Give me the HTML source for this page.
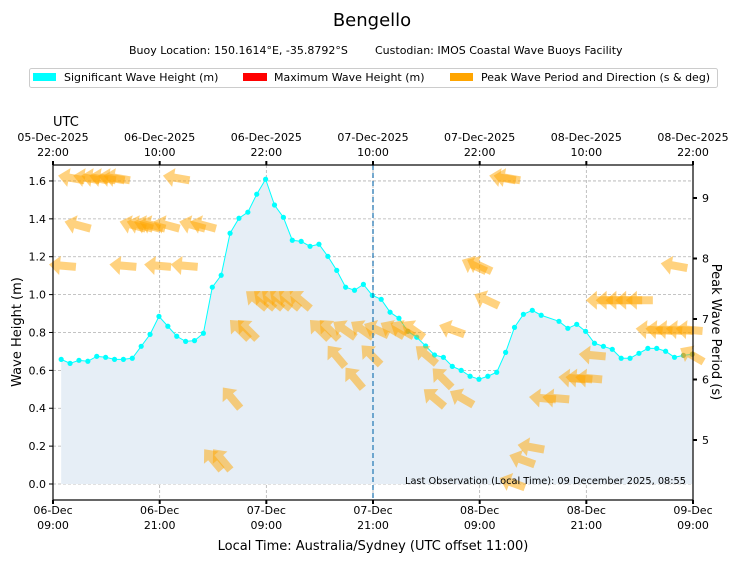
<!DOCTYPE html>
<html><head><meta charset="utf-8">
<style>
body{margin:0;background:#fff;}
svg{display:block;font-family:"DejaVu Sans","Liberation Sans",sans-serif;}
</style></head>
<body>
<svg id="chart" width="740" height="562" viewBox="0 0 740 562">
<text x="372" y="26" font-size="18" text-anchor="middle">Bengello</text>
<g>
<text x="129" y="54" font-size="11">Buoy Location: 150.1614°E, -35.8792°S</text>
<text x="375" y="54" font-size="11">Custodian: IMOS Coastal Wave Buoys Facility</text>
</g>
<g>
<rect x="29.5" y="68.5" width="688" height="19" rx="2" fill="#fff" stroke="#ccc"/>
<g><rect x="33" y="73" width="23" height="8" fill="#00ffff"/><text x="64" y="81" font-size="11">Significant Wave Height (m)</text></g>
<g><rect x="243" y="73" width="24" height="8" fill="#ff0000"/><text x="274" y="81" font-size="11">Maximum Wave Height (m)</text></g>
<g><rect x="450" y="73" width="23" height="8" fill="#ffa500"/><text x="481" y="81" font-size="11">Peak Wave Period and Direction (s &amp; deg)</text></g>
</g>
<text x="53" y="126" font-size="13">UTC</text>
<g id="plot"></g>
<text x="373" y="550" font-size="13" text-anchor="middle">Local Time: Australia/Sydney (UTC offset 11:00)</text>
<text transform="translate(21,332) rotate(-90)" font-size="13" text-anchor="middle">Wave Height (m)</text>
<text transform="translate(712,332) rotate(90)" font-size="13" text-anchor="middle">Peak Wave Period (s)</text>
</svg>
<script>
const hsValues=[0.658,0.637,0.653,0.648,0.674,0.669,0.658,0.658,0.664,0.727,0.790,0.885,0.833,0.780,0.753,0.757,0.796,1.039,1.102,1.324,1.403,1.435,1.530,1.609,1.473,1.408,1.287,1.281,1.255,1.266,1.202,1.128,1.039,1.023,1.054,0.996,0.975,0.907,0.875,0.806,0.775,0.729,0.681,0.669,0.621,0.600,0.569,0.553,0.569,0.590,0.695,0.827,0.896,0.917,0.891,null,0.859,0.822,0.843,0.806,0.743,0.727,0.711,0.664,0.664,0.690,0.716,0.716,0.701,0.669,0.679,0.685];
const greenIdx=[39,70,71];
const arrowHour=[1.2,2.9,3.8,4.7,5.7,6.3,13.0,49.7,50.2, 1.9,8.1,8.9,9.7,10.3,11.9,14.8,16.0, 0.2,7.0,10.9,13.9,46.5,47.1,69.0, 47.9,60.6,61.7,62.8,63.9,65.1, 22.0,22.9,23.8,24.7,25.7,26.9, 20.1,21.0,29.1,30.2,31.9,33.9,35.5,37.3,38.4,39.6,44.0,66.2,67.3,68.4,69.6,70.7, 31.0,34.9,41.1,59.8,71.0, 33.0,42.9,57.5,58.3,59.4, 19.2,42.0,45.1,54.2,55.7, 52.9,51.9,50.8,17.1,18.1];
const arrowPeriod=[9.33,9.33,9.33,9.33,9.33,9.33,9.33,9.33,9.33, 8.55,8.55,8.55,8.55,8.55,8.55,8.55,8.55, 7.88,7.88,7.88,7.88,7.88,7.88,7.88, 7.31,7.31,7.31,7.31,7.31,7.31, 7.31,7.31,7.31,7.31,7.31,7.31, 6.82,6.82,6.82,6.82,6.82,6.82,6.82,6.82,6.82,6.82,6.82,6.82,6.82,6.82,6.82,6.82, 6.38,6.40,6.40,6.40,6.40, 6.02,6.02,6.02,6.02,6.02, 5.69,5.69,5.69,5.69,5.69, 4.88,4.67,4.29,4.67,4.67];
const arrowDir=[100,100,100,100,100,100,100,100,100, 105,105,105,105,105,105,105,105, 95,95,95,95,115,115,100, 115,90,90,90,90,90, 130,130,130,130,130,130, 135,135,135,135,125,125,115,120,120,125,110,95,95,95,95,95, 140,135,130,95,120, 140,135,95,95,95, 140,130,120,95,95, 100,110,110,140,140];
const yTicks=[0.0,0.2,0.4,0.6,0.8,1.0,1.2,1.4,1.6];
const y2Ticks=[5,6,7,8,9];
const xTickHours=[0,12,24,36,48,60,72];
const xTickBottom=[["06-Dec","09:00"],["06-Dec","21:00"],["07-Dec","09:00"],["07-Dec","21:00"],["08-Dec","09:00"],["08-Dec","21:00"],["09-Dec","09:00"]];
const xTickTop=[["05-Dec-2025","22:00"],["06-Dec-2025","10:00"],["06-Dec-2025","22:00"],["07-Dec-2025","10:00"],["07-Dec-2025","22:00"],["08-Dec-2025","10:00"],["08-Dec-2025","22:00"]];
const nowHour=36;
const firstObsHour=0.92;

const L=53,R=693,T=165,B=500;
const xS=h=>L+h*(R-L)/72;
const yS=v=>484-v*189.4;
const y2S=p=>198+(9-p)*60.5;
const NS="http://www.w3.org/2000/svg";
const plot=document.getElementById('plot');
function mk(tag,attrs,parent){const e=document.createElementNS(NS,tag);for(const k in attrs)e.setAttribute(k,attrs[k]);(parent||plot).appendChild(e);return e;}

yTicks.forEach(v=>{const g=mk('line',{x1:L,x2:R,y1:yS(v),y2:yS(v),stroke:'#b0b0b0','stroke-dasharray':'3,2','stroke-width':0.8});

});
xTickHours.forEach(h=>{const g=mk('line',{x1:xS(h),x2:xS(h),y1:T,y2:B,stroke:'#b0b0b0','stroke-dasharray':'3,2','stroke-width':0.8});

});

const pts=[];hsValues.forEach((v,i)=>{if(v!==null)pts.push([xS(firstObsHour+i),yS(v)]);});
const area=mk('path',{d:'M'+pts[0][0]+','+yS(0)+' '+pts.map(p=>'L'+p[0]+','+p[1]).join(' ')+' L'+pts[pts.length-1][0]+','+yS(0)+'Z',fill:'#e6eef6'});


const line=mk('polyline',{points:pts.map(p=>p.join(',')).join(' '),fill:'none',stroke:'#00ffff','stroke-width':1});


hsValues.forEach((v,i)=>{if(v===null)return;const c=mk('circle',{cx:xS(firstObsHour+i),cy:yS(v),r:2.6,fill:greenIdx.includes(i)?'#7fbf7f':'#00ffff'});

});

arrowHour.forEach((h,i)=>{
 const cx=xS(firstObsHour+h),cy=y2S(arrowPeriod[i]);
 const to=(arrowDir[i]+180)*Math.PI/180;
 const ang=Math.atan2(-Math.cos(to),Math.sin(to))*180/Math.PI;
 const a=mk('path',{d:'M-13,-4 L3,-4 L3,-9.5 L14,0 L3,9.5 L3,4 L-13,4Z',fill:'#ffa500','fill-opacity':0.5,transform:`translate(${cx},${cy}) rotate(${ang})`});
 
 
});

const nl=mk('line',{x1:xS(nowHour),x2:xS(nowHour),y1:T,y2:B,stroke:'#1f77b4','stroke-width':1.5,'stroke-dasharray':'5,3','stroke-opacity':0.8});



const fr=mk('rect',{x:L,y:T,width:R-L,height:B-T,fill:'none',stroke:'#000','stroke-width':1.2});



yTicks.forEach(v=>{mk('line',{x1:L-4,x2:L,y1:yS(v),y2:yS(v),stroke:'#000'});
 const t=mk('text',{x:L-7,y:yS(v)+4,'font-size':11,'text-anchor':'end'});t.textContent=v.toFixed(1);
 
 });
y2Ticks.forEach(p=>{mk('line',{x1:R,x2:R+4,y1:y2S(p),y2:y2S(p),stroke:'#000','stroke-width':2});
 const t=mk('text',{x:R+9,y:y2S(p)+4,'font-size':11});t.textContent=p;
 
 });
xTickHours.forEach((h,i)=>{const x=xS(h);
 mk('line',{x1:x,x2:x,y1:B,y2:B+4,stroke:'#000','stroke-width':2});
 mk('line',{x1:x,x2:x,y1:T-4,y2:T,stroke:'#000','stroke-width':2});
 const t=mk('text',{x:x,y:514,'font-size':11,'text-anchor':'middle'});
 
 
 const s1=mk('tspan',{x:x},t);s1.textContent=xTickBottom[i][0];
 const s2=mk('tspan',{x:x,dy:15},t);s2.textContent=xTickBottom[i][1];
 const u=mk('text',{x:x,y:141,'font-size':11,'text-anchor':'middle'});
 
 
 const s3=mk('tspan',{x:x},u);s3.textContent=xTickTop[i][0];
 const s4=mk('tspan',{x:x,dy:15},u);s4.textContent=xTickTop[i][1];
});
const lo=mk('text',{x:405,y:484,'font-size':10,textLength:281,lengthAdjust:'spacingAndGlyphs'});
lo.textContent='Last Observation (Local Time): 09 December 2025, 08:55';


</script>
</body></html>
